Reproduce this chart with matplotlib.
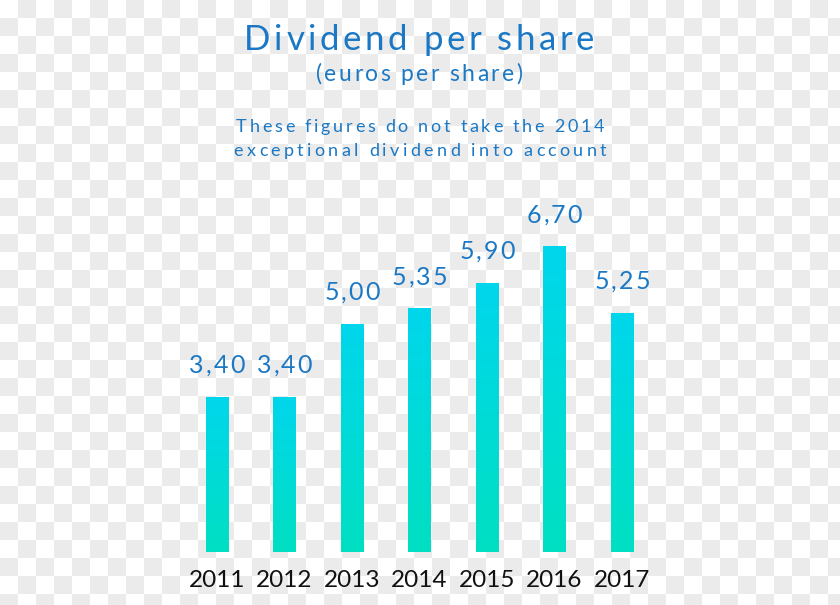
import numpy as np
import matplotlib
matplotlib.use("Agg")
import matplotlib.pyplot as plt
from matplotlib.colors import LinearSegmentedColormap
from matplotlib.textpath import TextToPath
from matplotlib.font_manager import FontProperties

# ---- data ----
years = ["2011", "2012", "2013", "2014", "2015", "2016", "2017"]
dividends = [3.40, 3.40, 5.00, 5.35, 5.90, 6.70, 5.25]
value_labels = ["3,40", "3,40", "5,00", "5,35", "5,90", "6,70", "5,25"]
title = "Dividend per share"
subtitle = "(euros per share)"
note_lines = ["These figures do not take the 2014", "exceptional dividend into account"]

FONT = ["Lato", "DejaVu Sans"]
BLUE = "#1b78c4"
W, H = 840, 605
DPI = 100

fig = plt.figure(figsize=(W / DPI, H / DPI), dpi=DPI)
ttp = TextToPath()


def text_w_px(s, prop):
    w1, _, _ = ttp.get_text_width_height_descent(s + "|", prop, ismath=False)
    w0, _, _ = ttp.get_text_width_height_descent("|", prop, ismath=False)
    return (w1 - w0) * DPI / 72.0


def tracked_text(xc, ybase, s, size, track, color, weight="normal"):
    """Draw s centred at pixel xc (from left), baseline at pixel ybase (from top),
    with extra letter spacing `track` pixels."""
    prop = FontProperties(family=FONT, size=size, weight=weight)
    offs = [text_w_px(s[:i], prop) for i in range(len(s) + 1)]
    total = offs[-1] + track * (len(s) - 1)
    left = xc - total / 2
    for i, ch in enumerate(s):
        if ch == " ":
            continue
        px = left + offs[i] + track * i
        fig.text(px / W, 1 - ybase / H, ch, ha="left", va="baseline",
                 fontproperties=prop, color=color)


# checkerboard background (transparency pattern)
bg = fig.add_axes([0, 0, 1, 1])
sq = 18
nr, nc = H // sq + 1, W // sq + 1
board = (np.add.outer(np.arange(nr), np.arange(nc)) % 2).astype(float)
bg.imshow(board, cmap=LinearSegmentedColormap.from_list("cb", ["#ffffff", "#ebebeb"]),
          extent=(0, nc * sq, nr * sq, 0), interpolation="nearest", aspect="auto")
bg.set_xlim(0, W)
bg.set_ylim(H, 0)
bg.axis("off")

# main axes in pixel layout
x0, x1 = 183.25, 655.75
ybot, ytop = 552, 170
ax = fig.add_axes([x0 / W, (H - ybot) / H, (x1 - x0) / W, (ybot - ytop) / H])
ax.patch.set_alpha(0)
ymax = (ybot - ytop) / 45.6
ax.set_xlim(-0.5, len(years) - 0.5)
ax.set_ylim(0, ymax)

x = np.arange(len(years))
bars = ax.bar(x, dividends, width=0.326, color="none", edgecolor="none")
grad_cmap = LinearSegmentedColormap.from_list("g", ["#00e0c2", "#00d6ec"])
grad = np.linspace(0, 1, 256).reshape(-1, 1)
for b in bars:
    bx, bw, bh = b.get_x(), b.get_width(), b.get_height()
    im = ax.imshow(grad, cmap=grad_cmap, origin="lower", aspect="auto",
                   extent=(bx, bx + bw, 0, bh), zorder=2)
    im.set_clip_path(b)
ax.set_xlim(-0.5, len(years) - 0.5)
ax.set_ylim(0, ymax)

ax.set_xticks(x)
ax.set_xticklabels(years, family=FONT, fontsize=17.5, color="#111111")
ax.tick_params(axis="x", length=0, pad=13)
ax.set_yticks([])
for s in ax.spines.values():
    s.set_visible(False)

# value labels, positioned from the data through the axes transform
fig.canvas.draw()
for xi, v, lab in zip(x, dividends, value_labels):
    px, py = ax.transData.transform((xi, v))
    tracked_text(px, (H - py) - 23.5, lab, 18, 2.0, BLUE)

# titles
tracked_text(419, 50, title, 25, 3.6, BLUE)
tracked_text(419, 81, subtitle, 16.5, 2.4, BLUE)
tracked_text(420, 132, note_lines[0], 13, 2.7, BLUE)
tracked_text(420, 156, note_lines[1], 13, 3.3, BLUE)

fig.savefig("out.png", dpi=DPI)
